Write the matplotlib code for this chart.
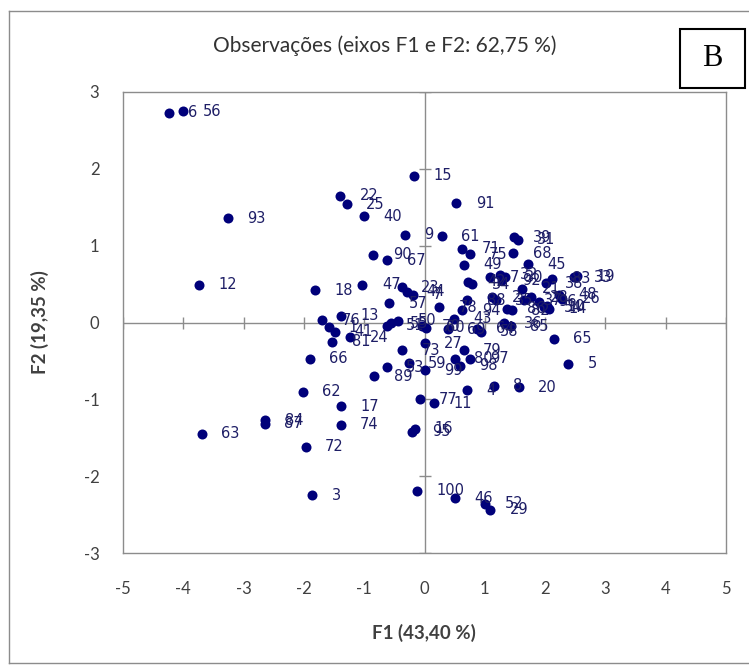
import matplotlib
matplotlib.use("Agg")
import matplotlib.pyplot as plt
from matplotlib.patches import Rectangle
from matplotlib.lines import Line2D

# ---- data ----
labels = ["6", "56", "93", "12", "22", "25", "40", "15", "91", "9",
          "61", "71", "75", "49", "39", "31", "68", "45", "83", "33",
          "19", "38", "26", "48", "96", "10", "14", "21", "32", "30",
          "92", "42", "34", "2", "35", "37", "54", "86", "82", "88",
          "94", "78", "43", "69", "64", "58", "36", "85", "65", "5",
          "18", "47", "23", "44", "7", "57", "90", "67", "13", "76",
          "1", "41", "81", "24", "51", "55", "50", "70", "60", "27",
          "73", "66", "53", "59", "99", "89", "80", "98", "79", "97",
          "4", "8", "20", "62", "17", "74", "84", "87", "63", "72",
          "3", "77", "11", "16", "95", "100", "46", "52", "29", "28",
          "71b"]
f1 = [-4.24, -4.00, -3.26, -3.74, -1.40, -1.29, -1.01, -0.18, 0.53, -0.33,
      0.29, 0.63, 0.75, 0.65, 1.48, 1.55, 1.47, 1.72, 2.12, 2.48,
      2.53, 2.01, 2.28, 2.23, 1.90, 2.03, 2.06, 1.62, 1.26, 1.34,
      1.29, 0.72, 0.79, 1.12, 1.18, 1.65, 1.98, 1.37, 1.45, 0.71,
      0.63, 0.24, 0.49, 0.39, 0.87, 0.93, 1.32, 1.43, 2.14, 2.38,
      -1.81, -1.03, -0.38, -0.29, -0.19, -0.59, -0.85, -0.62, -1.38, -1.70,
      -1.59, -1.48, -1.53, -1.23, -0.63, -0.56, -0.44, -0.04, 0.03, 0.00,
      -0.37, -1.90, -0.63, -0.26, 0.00, -0.83, 0.50, 0.59, 0.65, 0.76,
      0.71, 1.15, 1.56, -2.02, -1.39, -1.39, -2.64, -2.65, -3.69, -1.97,
      -1.86, -0.08, 0.15, -0.15, -0.20, -0.12, 0.51, 1.01, 1.09, 1.76,
      1.09]
f2 = [2.73, 2.75, 1.36, 0.49, 1.65, 1.54, 1.38, 1.91, 1.55, 1.14,
      1.12, 0.96, 0.89, 0.75, 1.11, 1.08, 0.90, 0.76, 0.57, 0.59,
      0.60, 0.51, 0.31, 0.36, 0.27, 0.21, 0.18, 0.44, 0.62, 0.59,
      0.55, 0.53, 0.50, 0.33, 0.29, 0.29, 0.20, 0.18, 0.16, 0.29,
      0.16, 0.20, 0.05, -0.09, -0.08, -0.12, -0.01, -0.05, -0.21, -0.54,
      0.42, 0.49, 0.46, 0.40, 0.36, 0.25, 0.88, 0.81, 0.09, 0.03,
      -0.06, -0.12, -0.25, -0.19, -0.04, -0.01, 0.02, -0.05, -0.07, -0.27,
      -0.36, -0.47, -0.58, -0.53, -0.62, -0.70, -0.47, -0.56, -0.36, -0.47,
      -0.88, -0.82, -0.84, -0.90, -1.09, -1.33, -1.27, -1.32, -1.45, -1.62,
      -2.25, -1.00, -1.05, -1.38, -1.42, -2.19, -2.29, -2.36, -2.44, 0.33,
      0.59]
labels[-1] = "7"

x_ticks = [-5, -4, -3, -2, -1, 0, 1, 2, 3, 4, 5]
y_ticks = [-3, -2, -1, 0, 1, 2, 3]
title = "Observações (eixos F1 e F2: 62,75 %)"
xlabel = "F1 (43,40 %)"
ylabel = "F2 (19,35 %)"
panel = "B"

# ---- figure ----
W, H = 749, 670
fig = plt.figure(figsize=(W / 100, H / 100), dpi=100)
fig.patch.set_facecolor("white")

# outer chart border
gray = "#8c8c8c"
fig.add_artist(Line2D([9 / W, 9 / W], [1 - 11 / H, 1 - 663 / H], color=gray, lw=1.0))
fig.add_artist(Line2D([9 / W, 1.0], [1 - 11 / H, 1 - 11 / H], color=gray, lw=1.0))
fig.add_artist(Line2D([9 / W, 1.0], [1 - 663 / H, 1 - 663 / H], color=gray, lw=1.0))

ax = fig.add_axes([123 / W, 1 - 553 / H, (726 - 123) / W, (553 - 92) / H])
ax.set_xlim(-5, 5)
ax.set_ylim(-3, 3)
for s in ax.spines.values():
    s.set_color(gray)
    s.set_linewidth(1.0)

# zero axes with cross ticks
ax.axhline(0, color=gray, lw=1.0, zorder=1)
ax.axvline(0, color=gray, lw=1.0, zorder=1)
ax.plot(x_ticks, [0] * len(x_ticks), ls="none", marker="|", ms=9, mew=1.0,
        color=gray, zorder=1)
ax.plot([0] * len(y_ticks), y_ticks, ls="none", marker="_", ms=9, mew=1.0,
        color=gray, zorder=1)

tick_font = "Lato"
ax.set_xticks(x_ticks)
ax.set_yticks(y_ticks)
ax.set_xticklabels([str(v) for v in x_ticks], fontsize=12, family=tick_font,
                   color="#404040")
ax.set_yticklabels([str(v) for v in y_ticks], fontsize=12, family=tick_font,
                   color="#404040")
ax.tick_params(axis="both", length=0)
ax.tick_params(axis="x", pad=20)
ax.tick_params(axis="y", pad=17)

# points
ax.scatter(f1, f2, s=52, color="#00007a", zorder=3, linewidths=0)
for xv, yv, lab in zip(f1, f2, labels):
    ax.annotate(lab, (xv, yv), xytext=(14, 0), textcoords="offset points",
                ha="left", va="center", fontsize=10.5, color="#1e1e66",
                family="DejaVu Sans", zorder=4, annotation_clip=False)

# axis titles
fig.text(424 / W, 1 - 633 / H, xlabel, ha="center", va="center", fontsize=13.5,
         family=tick_font, fontweight="bold", color="#404040")
fig.text(40 / W, 1 - 322 / H, ylabel, ha="center", va="center", fontsize=13.5,
         family=tick_font, fontweight="bold", color="#404040", rotation=90)
fig.text(385 / W, 1 - 46 / H, title, ha="center", va="center", fontsize=15,
         family=tick_font, color="#333333")

# panel letter box
fig.add_artist(Rectangle((680 / W, 1 - 88 / H), 65 / W, 59 / H,
                         transform=fig.transFigure, fill=True,
                         facecolor="white", edgecolor="black", lw=1.5))
fig.text(712.5 / W, 1 - 58.5 / H, panel, ha="center", va="center",
         fontsize=22, family="Liberation Serif", color="black")

fig.savefig("out.png", dpi=100)
